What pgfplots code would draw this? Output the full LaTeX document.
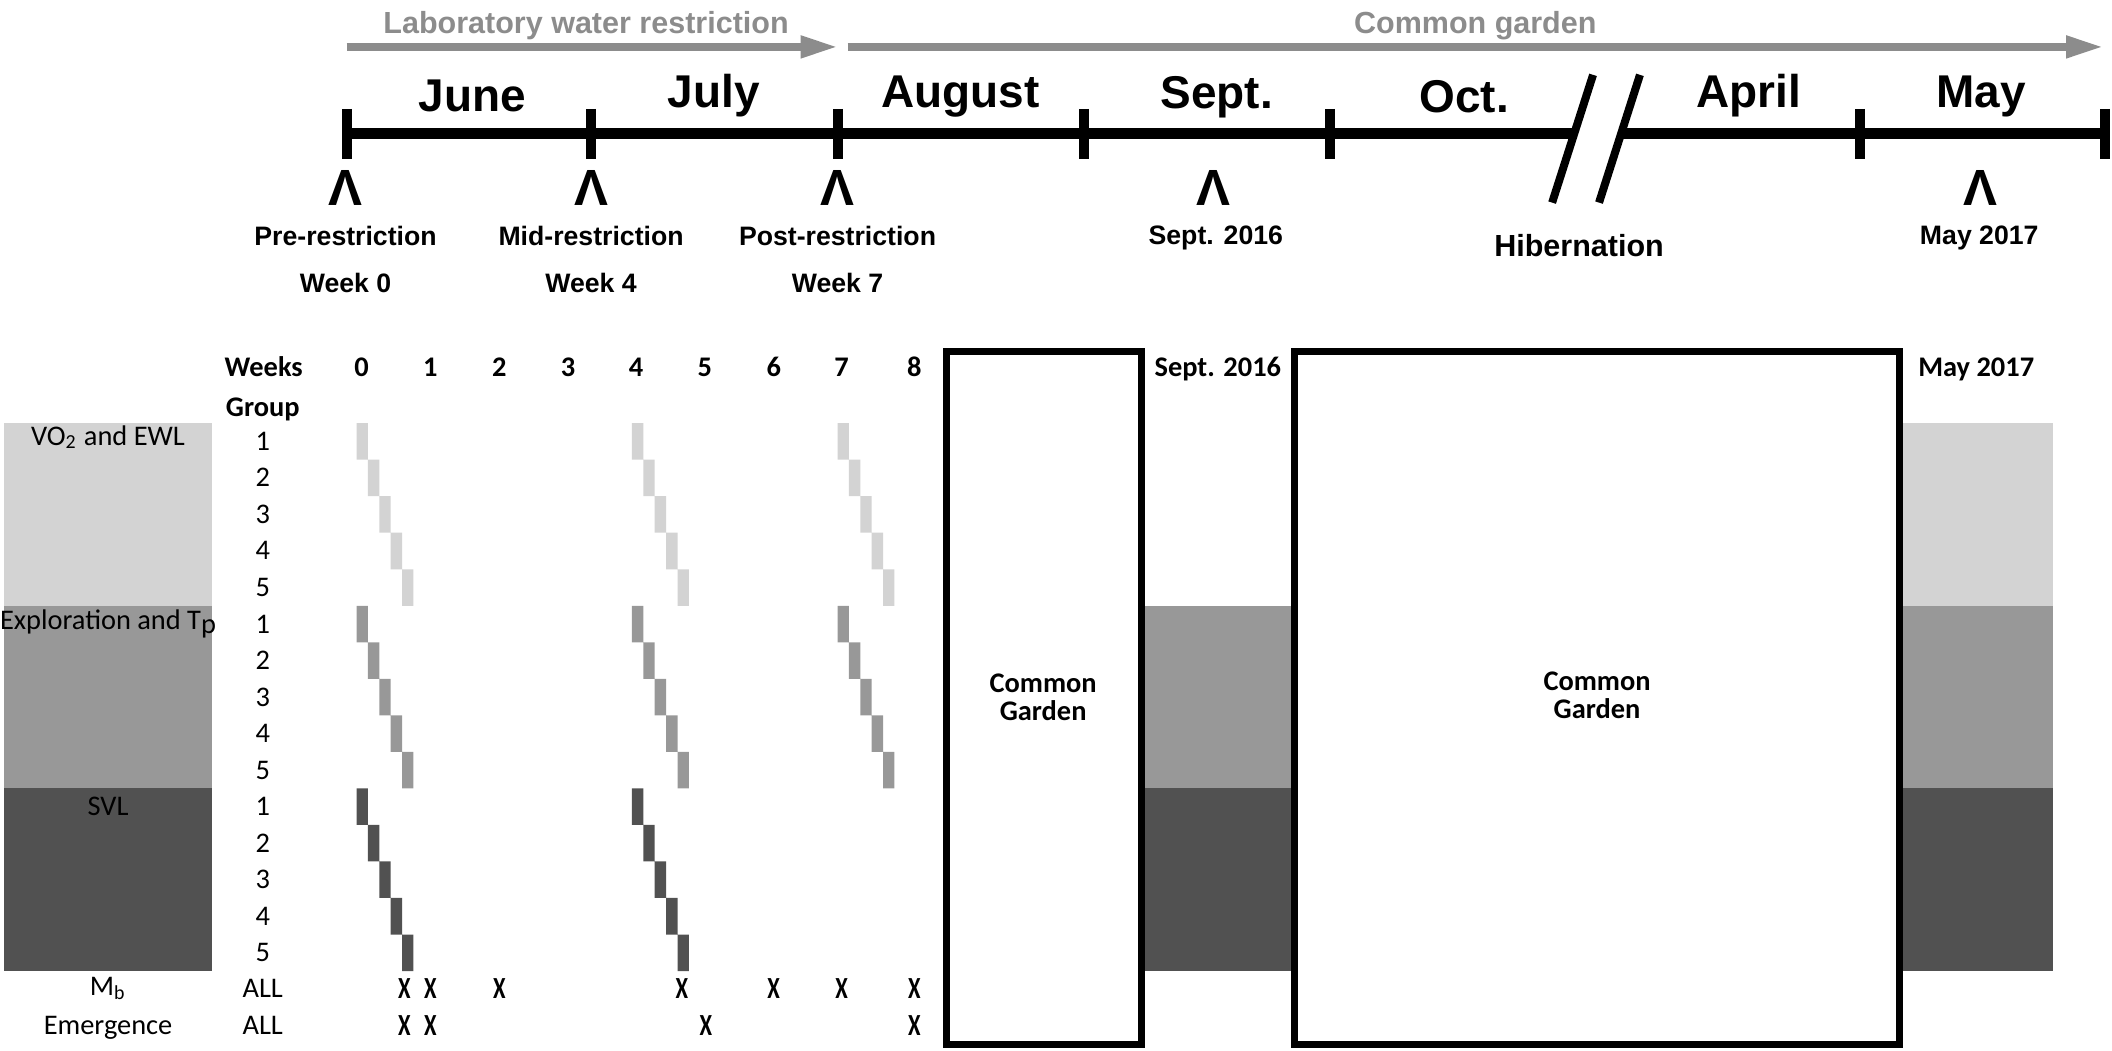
\documentclass[border=0pt]{standalone}
\usepackage{fontspec}
\setmainfont{Carlito}
\newfontfamily\arial{Liberation Sans}
\usepackage{pgfplots}
\pgfplotsset{compat=1.18}
\usetikzlibrary{arrows.meta}
\definecolor{lg}{HTML}{D3D3D3}
\definecolor{mg}{HTML}{989898}
\definecolor{dg}{HTML}{515151}
\definecolor{ag}{HTML}{8C8C8C}
\tikzset{lab/.style={anchor=base, inner sep=0pt}}
\newcommand\fA{\arial\bfseries\fontsize{8.7}{10}\selectfont}
\newcommand\fM{\arial\bfseries\fontsize{13.1}{15}\selectfont}
\newcommand\fL{\arial\bfseries\fontsize{7.6}{9}\selectfont}
\newcommand\fV{\arial\bfseries\fontsize{14.5}{18}\selectfont}
\newcommand\fC{\fontsize{8.1}{9.7}\selectfont}
\newcommand\fCB{\bfseries\fontsize{8.1}{9.7}\selectfont}
\newcommand\Xm{\scalebox{0.8}[1.08]{\bfseries X}}
\begin{document}
\begin{tikzpicture}
\begin{axis}[
  scale only axis, width=21.12cm, height=10.53cm,
  xmin=0, xmax=2112, ymin=0, ymax=1053, y dir=reverse,
  hide axis, clip=false,
]
\path (axis cs:0,0) rectangle (axis cs:2112,1053);
% ---------- top timeline ----------
\addplot[ag, line width=0.075cm, -{Triangle[length=0.37cm,width=0.21cm]}] coordinates {(343,47) (835,47)};
\addplot[ag, line width=0.075cm, -{Triangle[length=0.37cm,width=0.21cm]}] coordinates {(845,47) (2103,47)};
\node[lab, font=\fA, text=ag] at (axis cs:583,34) {Laboratory water restriction};
\node[lab, font=\fA, text=ag] at (axis cs:1474,34) {Common garden};
\addplot[black, line width=0.115cm] coordinates {(343,134) (1573,134)};
\addplot[black, line width=0.115cm] coordinates {(1620,134) (2105,134)};
\addplot[black, line width=0.1cm] coordinates {(343,109) (343,159)};
\addplot[black, line width=0.1cm] coordinates {(588,109) (588,159)};
\addplot[black, line width=0.1cm] coordinates {(835,109) (835,159)};
\addplot[black, line width=0.1cm] coordinates {(1082,109) (1082,159)};
\addplot[black, line width=0.1cm] coordinates {(1328,109) (1328,159)};
\addplot[black, line width=0.1cm] coordinates {(1859,109) (1859,159)};
\addplot[black, line width=0.1cm] coordinates {(2105,109) (2105,159)};
\addplot[black, line width=0.08cm] coordinates {(1592,75) (1551,203)};
\addplot[black, line width=0.08cm] coordinates {(1639,75) (1598,203)};
\node[lab, font=\fM] at (axis cs:469,112) {June};
\node[lab, font=\fM] at (axis cs:711,108) {July};
\node[lab, font=\fM] at (axis cs:958,108) {August};
\node[lab, font=\fM] at (axis cs:1215,109) {Sept.};
\node[lab, font=\fM] at (axis cs:1463,113) {Oct.};
\node[lab, font=\fM] at (axis cs:1748,108) {April};
\node[lab, font=\fM] at (axis cs:1981,108) {May};
\node[lab, font=\fV] at (axis cs:342,206) {Λ};
\node[lab, font=\fV] at (axis cs:588,206) {Λ};
\node[lab, font=\fV] at (axis cs:835,206) {Λ};
\node[lab, font=\fV] at (axis cs:1212,206) {Λ};
\node[lab, font=\fV] at (axis cs:1980,206) {Λ};
\node[lab, font=\fL] at (axis cs:342,246) {Pre-restriction};
\node[lab, font=\fL] at (axis cs:588,246) {Mid-restriction};
\node[lab, font=\fL] at (axis cs:835,246) {Post-restriction};
\node[lab, font=\fL] at (axis cs:342,293) {Week 0};
\node[lab, font=\fL] at (axis cs:588,293) {Week 4};
\node[lab, font=\fL] at (axis cs:835,293) {Week 7};
\node[lab, font=\fL] at (axis cs:1214,245) {Sept. 2016};
\node[lab, font=\fA] at (axis cs:1578,257) {Hibernation};
\node[lab, font=\fL] at (axis cs:1979,245) {May 2017};
% ---------- bands ----------
\addplot[fill=lg, draw=none] coordinates {(0,424) (208,424) (208,607) (0,607)};
\addplot[fill=mg, draw=none] coordinates {(0,607) (208,607) (208,790) (0,790)};
\addplot[fill=dg, draw=none] coordinates {(0,790) (208,790) (208,973) (0,973)};
\addplot[fill=mg, draw=none] coordinates {(1143,607) (1289,607) (1289,790) (1143,790)};
\addplot[fill=dg, draw=none] coordinates {(1143,790) (1289,790) (1289,973) (1143,973)};
\addplot[fill=lg, draw=none] coordinates {(1903,424) (2053,424) (2053,607) (1903,607)};
\addplot[fill=mg, draw=none] coordinates {(1903,607) (2053,607) (2053,790) (1903,790)};
\addplot[fill=dg, draw=none] coordinates {(1903,790) (2053,790) (2053,973) (1903,973)};
% ---------- staircases ----------
\addplot[fill=lg, draw=none] coordinates {(353,424)(364.4,424)(364.4,460.6)(375.8,460.6)(375.8,497.2)(387.2,497.2)(387.2,533.8)(398.6,533.8)(398.6,570.4)(410,570.4)(410,607)(398.6,607)(398.6,570.4)(387.2,570.4)(387.2,533.8)(375.8,533.8)(375.8,497.2)(364.4,497.2)(364.4,460.6)(353,460.6)};
\addplot[fill=lg, draw=none] coordinates {(629,424)(640.4,424)(640.4,460.6)(651.8,460.6)(651.8,497.2)(663.2,497.2)(663.2,533.8)(674.6,533.8)(674.6,570.4)(686,570.4)(686,607)(674.6,607)(674.6,570.4)(663.2,570.4)(663.2,533.8)(651.8,533.8)(651.8,497.2)(640.4,497.2)(640.4,460.6)(629,460.6)};
\addplot[fill=lg, draw=none] coordinates {(835,424)(846.4,424)(846.4,460.6)(857.8,460.6)(857.8,497.2)(869.2,497.2)(869.2,533.8)(880.6,533.8)(880.6,570.4)(892,570.4)(892,607)(880.6,607)(880.6,570.4)(869.2,570.4)(869.2,533.8)(857.8,533.8)(857.8,497.2)(846.4,497.2)(846.4,460.6)(835,460.6)};
\addplot[fill=mg, draw=none] coordinates {(353,607)(364.4,607)(364.4,643.6)(375.8,643.6)(375.8,680.2)(387.2,680.2)(387.2,716.8)(398.6,716.8)(398.6,753.4)(410,753.4)(410,790)(398.6,790)(398.6,753.4)(387.2,753.4)(387.2,716.8)(375.8,716.8)(375.8,680.2)(364.4,680.2)(364.4,643.6)(353,643.6)};
\addplot[fill=mg, draw=none] coordinates {(629,607)(640.4,607)(640.4,643.6)(651.8,643.6)(651.8,680.2)(663.2,680.2)(663.2,716.8)(674.6,716.8)(674.6,753.4)(686,753.4)(686,790)(674.6,790)(674.6,753.4)(663.2,753.4)(663.2,716.8)(651.8,716.8)(651.8,680.2)(640.4,680.2)(640.4,643.6)(629,643.6)};
\addplot[fill=mg, draw=none] coordinates {(835,607)(846.4,607)(846.4,643.6)(857.8,643.6)(857.8,680.2)(869.2,680.2)(869.2,716.8)(880.6,716.8)(880.6,753.4)(892,753.4)(892,790)(880.6,790)(880.6,753.4)(869.2,753.4)(869.2,716.8)(857.8,716.8)(857.8,680.2)(846.4,680.2)(846.4,643.6)(835,643.6)};
\addplot[fill=dg, draw=none] coordinates {(353,790)(364.4,790)(364.4,826.6)(375.8,826.6)(375.8,863.2)(387.2,863.2)(387.2,899.8)(398.6,899.8)(398.6,936.4)(410,936.4)(410,973)(398.6,973)(398.6,936.4)(387.2,936.4)(387.2,899.8)(375.8,899.8)(375.8,863.2)(364.4,863.2)(364.4,826.6)(353,826.6)};
\addplot[fill=dg, draw=none] coordinates {(629,790)(640.4,790)(640.4,826.6)(651.8,826.6)(651.8,863.2)(663.2,863.2)(663.2,899.8)(674.6,899.8)(674.6,936.4)(686,936.4)(686,973)(674.6,973)(674.6,936.4)(663.2,936.4)(663.2,899.8)(651.8,899.8)(651.8,863.2)(640.4,863.2)(640.4,826.6)(629,826.6)};
% ---------- boxes ----------
\addplot[draw=black, line width=0.07cm] coordinates {(944.5,352.5) (1139.5,352.5) (1139.5,1046.5) (944.5,1046.5)} -- cycle;
\addplot[draw=black, line width=0.07cm] coordinates {(1293,352.5) (1899,352.5) (1899,1046.5) (1293,1046.5)} -- cycle;
\node[lab, font=\fCB] at (axis cs:1041,694) {Common};
\node[lab, font=\fCB] at (axis cs:1041,722) {Garden};
\node[lab, font=\fCB] at (axis cs:1596,692) {Common};
\node[lab, font=\fCB] at (axis cs:1596,720) {Garden};
% ---------- table text ----------
\node[lab, font=\fCB] at (axis cs:260,377) {Weeks};
\node[lab, font=\fCB] at (axis cs:358,377) {0};
\node[lab, font=\fCB] at (axis cs:427,377) {1};
\node[lab, font=\fCB] at (axis cs:496,377) {2};
\node[lab, font=\fCB] at (axis cs:565,377) {3};
\node[lab, font=\fCB] at (axis cs:633,377) {4};
\node[lab, font=\fCB] at (axis cs:702,377) {5};
\node[lab, font=\fCB] at (axis cs:771,377) {6};
\node[lab, font=\fCB] at (axis cs:839,377) {7};
\node[lab, font=\fCB] at (axis cs:912,377) {8};
\node[lab, font=\fCB] at (axis cs:1216,377) {Sept. 2016};
\node[lab, font=\fCB] at (axis cs:1976,377) {May 2017};
\node[lab, font=\fCB] at (axis cs:259,417) {Group};
\node[lab, font=\fC] at (axis cs:259,451.3) {1};
\node[lab, font=\fC] at (axis cs:259,487.9) {2};
\node[lab, font=\fC] at (axis cs:259,524.5) {3};
\node[lab, font=\fC] at (axis cs:259,561.1) {4};
\node[lab, font=\fC] at (axis cs:259,597.7) {5};
\node[lab, font=\fC] at (axis cs:259,634.3) {1};
\node[lab, font=\fC] at (axis cs:259,670.9) {2};
\node[lab, font=\fC] at (axis cs:259,707.5) {3};
\node[lab, font=\fC] at (axis cs:259,744.1) {4};
\node[lab, font=\fC] at (axis cs:259,780.7) {5};
\node[lab, font=\fC] at (axis cs:259,817.3) {1};
\node[lab, font=\fC] at (axis cs:259,853.9) {2};
\node[lab, font=\fC] at (axis cs:259,890.5) {3};
\node[lab, font=\fC] at (axis cs:259,927.1) {4};
\node[lab, font=\fC] at (axis cs:259,963.7) {5};
\node[lab, font=\fC] at (axis cs:259,1000) {ALL};
\node[lab, font=\fC] at (axis cs:259,1037) {ALL};
\node[lab, font=\fC] at (axis cs:104,446) {VO\textsubscript{2} and EWL};
\node[lab, font=\fC] at (axis cs:104,631) {Exploration and T\raisebox{-0.12em}{p}};
\node[lab, font=\fC] at (axis cs:104,817) {SVL};
\node[lab, font=\fC] at (axis cs:104,997) {M\textsubscript{b}};
\node[lab, font=\fC] at (axis cs:104,1037) {Emergence};
% ---------- X marks ----------
\addplot[draw=none, nodes near coords={\Xm}, nodes near coords align=center,
  every node near coord/.append style={font=\fC, inner sep=0pt}]
  coordinates {(401,991) (427,991) (496,991) (679,991) (771,991) (839,991) (912,991)};
\addplot[draw=none, nodes near coords={\Xm}, nodes near coords align=center,
  every node near coord/.append style={font=\fC, inner sep=0pt}]
  coordinates {(401,1028) (427,1028) (703,1028) (912,1028)};
\end{axis}
\end{tikzpicture}
\end{document}
